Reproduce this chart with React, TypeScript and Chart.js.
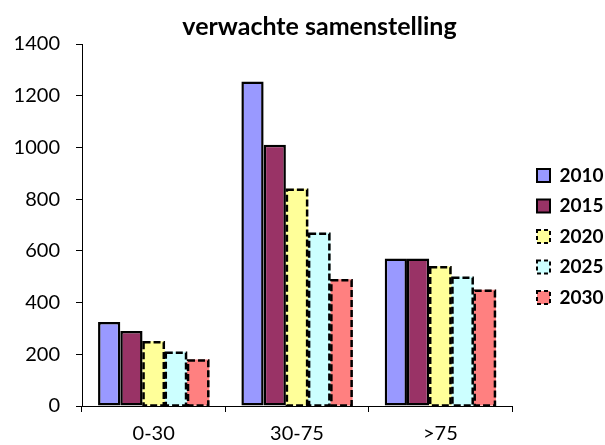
import React, { useEffect, useRef } from "react";
import { Chart, registerables } from "chart.js";

Chart.register(...registerables);

const categories = ["0-30", "30-75", ">75"];
const seriesNames = ["2010", "2015", "2020", "2025", "2030"];
const v2010 = [325, 1255, 570];
const v2015 = [290, 1010, 570];
const v2020 = [250, 840, 540];
const v2025 = [210, 670, 500];
const v2030 = [180, 490, 450];
const seriesValues = [v2010, v2015, v2020, v2025, v2030];
const seriesColors = ["#9999FF", "#993366", "#FFFF99", "#CCFFFF", "#FF8080"];
const seriesDashed = [false, false, true, true, true];
const yTicks = [0, 200, 400, 600, 800, 1000, 1200, 1400];

const FONT = "Lato";

const dashedBorders = {
  id: "dashedBorders",
  afterDatasetsDraw(chart: any) {
    const ctx = chart.ctx;
    chart.data.datasets.forEach((ds: any, i: number) => {
      if (!ds.dashed) return;
      const meta = chart.getDatasetMeta(i);
      meta.data.forEach((bar: any) => {
        const { x, y, base, width } = bar.getProps(["x", "y", "base", "width"], true);
        ctx.save();
        ctx.setLineDash([7, 3]);
        ctx.lineWidth = 2.5;
        ctx.strokeStyle = "#000";
        ctx.strokeRect(x - width / 2 + 1, y + 1, width - 2, base - y - 1);
        ctx.restore();
      });
    });
  },
};

export default function App() {
  const ref = useRef<HTMLCanvasElement | null>(null);
  useEffect(() => {
    if (!ref.current) return;
    const chart: any = new Chart(ref.current, {
      type: "bar",
      data: {
        labels: categories,
        datasets: seriesNames.map((name, i) => ({
          label: name,
          data: seriesValues[i],
          backgroundColor: seriesColors[i],
          borderColor: "#000",
          borderWidth: seriesDashed[i] ? 0 : 2.5,
          borderSkipped: false,
          dashed: seriesDashed[i],
          categoryPercentage: 0.776,
          barPercentage: 1,
        })) as any,
      },
      options: {
        responsive: false,
        animation: false,
        layout: { padding: { left: 0, right: 0, top: 0, bottom: 0 } },
        plugins: {
          title: {
            display: true,
            text: "verwachte samenstelling",
            color: "#000",
            font: { family: FONT, size: 25, weight: "bold" },
            padding: { top: 12, bottom: 2 },
          },
          legend: {
            position: "right",
            align: "center",
            maxWidth: 79.5,
            title: {
              display: true,
              text: "",
              font: { size: 10 },
              padding: { top: 16, bottom: 0 },
            },
            labels: {
              boxWidth: 13,
              boxHeight: 13,
              padding: 11.5,
              color: "#000",
              font: { family: FONT, size: 19, weight: "bold" },
              generateLabels: (ch: any) => {
                const items = Chart.defaults.plugins.legend.labels.generateLabels(ch);
                return items.map((it: any, i: number) => ({
                  ...it,
                  strokeStyle: "#000",
                  lineWidth: 2,
                  lineDash: seriesDashed[i] ? [4, 3] : [],
                }));
              },
            },
          },
          tooltip: { enabled: false },
        },
        scales: {
          x: {
            grid: {
              display: true,
              offset: true,
              drawOnChartArea: false,
              drawTicks: true,
              tickLength: 6,
              color: "#000",
            },
            border: { display: true, color: "#000", width: 1 },
            ticks: { color: "#000", font: { family: FONT, size: 20 }, padding: 10 },
            afterFit: (s: any) => {
              s.height = 39;
            },
          },
          y: {
            min: yTicks[0],
            max: yTicks[yTicks.length - 1],
            grid: {
              display: true,
              drawOnChartArea: false,
              drawTicks: true,
              tickLength: 6,
              color: "#000",
            },
            border: { display: true, color: "#000", width: 1 },
            ticks: {
              stepSize: 200,
              color: "#000",
              font: { family: FONT, size: 20 },
              padding: 16,
              callback: (v: any) => String(v),
            },
            afterBuildTicks: (s: any) => {
              s.ticks = yTicks.map((v) => ({ value: v }));
            },
            afterFit: (s: any) => {
              s.width = 82;
            },
          },
          pad: {
            type: "linear",
            position: "right",
            display: true,
            grid: { display: false },
            border: { display: false },
            ticks: { display: false },
            afterFit: (s: any) => {
              s.width = 13.5;
            },
          },
        },
      } as any,
      plugins: [dashedBorders],
    });
    const tb = chart.titleBlock;
    if (tb) {
      const orig = tb.draw.bind(tb);
      tb.draw = (...args: any[]) => {
        const ctx = chart.ctx;
        ctx.save();
        ctx.translate(17, 0);
        orig(...args);
        ctx.restore();
      };
      chart.draw();
    }
    return () => chart.destroy();
  }, []);
  return (
    <div style={{ position: "fixed", left: 0, top: 0, width: 605, height: 445, background: "#fff" }}>
      <canvas ref={ref} width={605} height={445} style={{ width: 605, height: 445 }} />
    </div>
  );
}
